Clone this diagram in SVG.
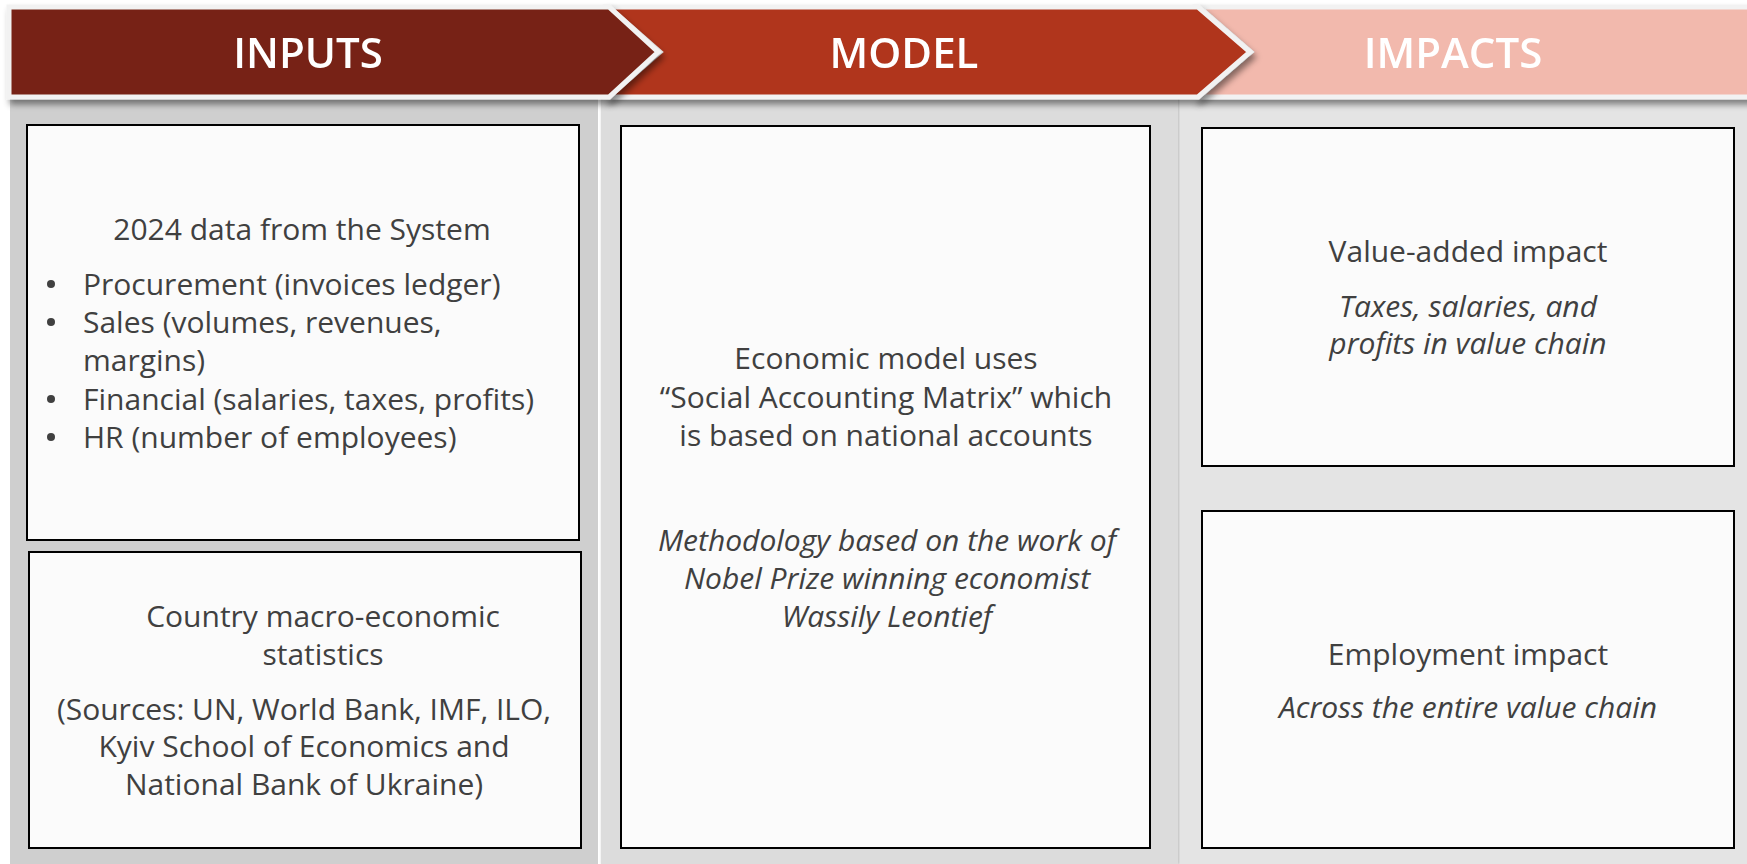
<svg xmlns="http://www.w3.org/2000/svg" width="1747" height="864" viewBox="0 0 1747 864">
  <defs>
    <filter id="hshadow" x="-5%" y="-20%" width="115%" height="160%">
      <feDropShadow dx="3" dy="5" stdDeviation="3" flood-color="#000" flood-opacity="0.45"/>
    </filter>
    <filter id="pshadow" x="-5%" y="-5%" width="110%" height="110%">
      <feDropShadow dx="1" dy="1" stdDeviation="1.5" flood-color="#000" flood-opacity="0.3"/>
    </filter>
  </defs>
  <style>
    .hdr { stroke: #F2F2F2; stroke-width: 5; stroke-linejoin: miter; }
    .htxt { font-family: "Open Sans", "Noto Sans", sans-serif; font-size: 42px; font-weight: 600; fill: #FFFFFF; text-anchor: middle; }
    .box { fill: #FBFBFB; stroke: #000000; stroke-width: 2; }
    .t { font-family: "Open Sans", "Noto Sans", sans-serif; font-size: 30px; fill: #404040; }
    .c { text-anchor: middle; }
    .i { font-style: italic; }
    .b { fill: #404040; }
  </style>
  <rect x="0" y="0" width="1747" height="864" fill="#FFFFFF"/>
  <g id="panels">
    <rect x="10" y="90" width="588" height="774" fill="#CFCFCF"/>
    <rect x="601" y="90" width="577" height="774" fill="#DCDCDC" filter="url(#pshadow)"/>
    <rect x="1180" y="90" width="567" height="774" fill="#E4E4E4" filter="url(#pshadow)"/>
  </g>
  <g id="header-impacts" filter="url(#hshadow)">
    <polygon class="hdr" points="1199,7 1760,7 1760,97 1199,97 1251,52" fill="#F2B9AD"/>
    <text class="htxt" x="1453" y="68">IMPACTS</text>
  </g>
  <g id="header-model" filter="url(#hshadow)">
    <polygon class="hdr" points="609,7 1198,7 1250,52 1198,97 609,97 660,52" fill="#B0351C"/>
    <text class="htxt" x="904" y="68">MODEL</text>
  </g>
  <g id="header-inputs" filter="url(#hshadow)">
    <polygon class="hdr" points="9,7 609,7 658,52 609,97 9,97" fill="#772415"/>
    <text class="htxt" x="308" y="68">INPUTS</text>
  </g>
  <g id="connectors"/>
  <g id="node-system-data">
    <rect class="box" x="27" y="125" width="552" height="415"/>
    <text class="t c" x="302" y="240">2024 data from the System</text>
    <circle class="b" cx="51" cy="284" r="4"/>
    <text class="t" x="83" y="295">Procurement (invoices ledger)</text>
    <circle class="b" cx="51" cy="322" r="4"/>
    <text class="t" x="83" y="333">Sales (volumes, revenues,</text>
    <text class="t" x="83" y="371">margins)</text>
    <circle class="b" cx="51" cy="399" r="4"/>
    <text class="t" x="83" y="410">Financial (salaries, taxes, profits)</text>
    <circle class="b" cx="51" cy="437" r="4"/>
    <text class="t" x="83" y="448">HR (number of employees)</text>
  </g>
  <g id="node-macro-stats">
    <rect class="box" x="29" y="552" width="552" height="296"/>
    <text class="t c" x="323" y="627">Country macro-economic</text>
    <text class="t c" x="323" y="665">statistics</text>
    <text class="t c" x="304" y="720">(Sources: UN, World Bank, IMF, ILO,</text>
    <text class="t c" x="304" y="757">Kyiv School of Economics and</text>
    <text class="t c" x="304" y="795">National Bank of Ukraine)</text>
  </g>
  <g id="node-model">
    <rect class="box" x="621" y="126" width="529" height="722"/>
    <text class="t c" x="886" y="369">Economic model uses</text>
    <text class="t c" x="886" y="408">“Social Accounting Matrix” which</text>
    <text class="t c" x="886" y="446">is based on national accounts</text>
    <text class="t c i" x="887" y="551">Methodology based on the work of</text>
    <text class="t c i" x="887" y="589">Nobel Prize winning economist</text>
    <text class="t c i" x="887" y="627">Wassily Leontief</text>
  </g>
  <g id="node-value-added">
    <rect class="box" x="1202" y="128" width="532" height="338"/>
    <text class="t c" x="1468" y="262">Value-added impact</text>
    <text class="t c i" x="1468" y="317">Taxes, salaries, and</text>
    <text class="t c i" x="1468" y="354">profits in value chain</text>
  </g>
  <g id="node-employment">
    <rect class="box" x="1202" y="511" width="532" height="337"/>
    <text class="t c" x="1468" y="665">Employment impact</text>
    <text class="t c i" x="1468" y="718">Across the entire value chain</text>
  </g>
</svg>
